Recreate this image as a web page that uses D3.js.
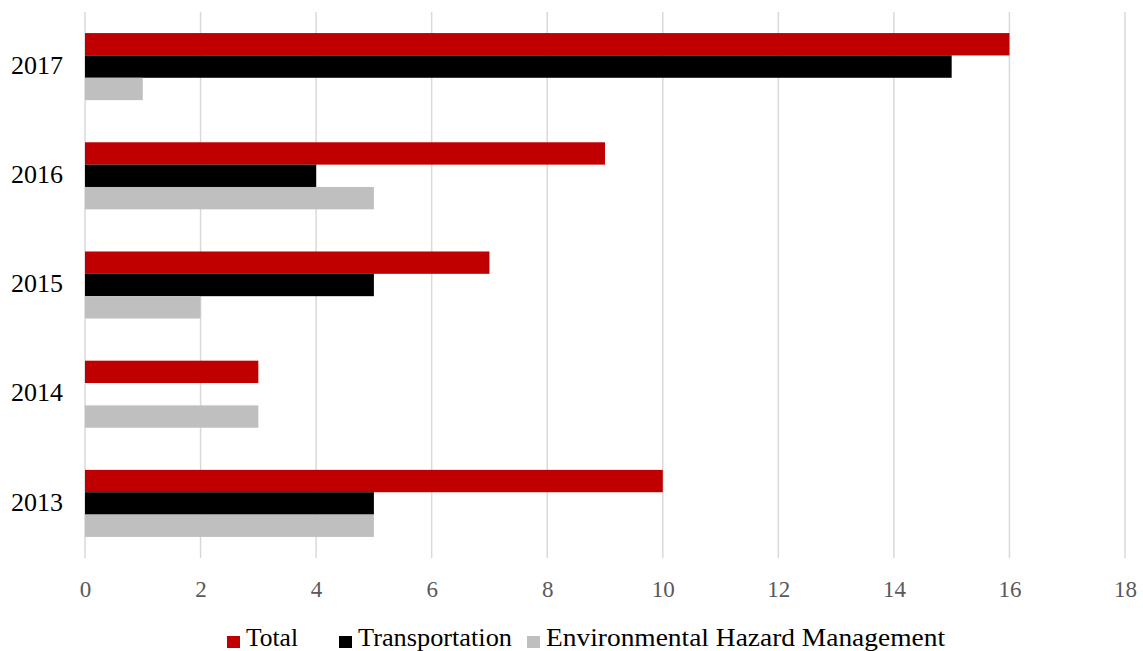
<!DOCTYPE html>
<html><head><meta charset="utf-8">
<script src="https://cdn.jsdelivr.net/npm/d3@7"></script>
<style>body{margin:0;background:#fff}svg{display:block}</style>
</head><body>
<svg id="chart" width="1143" height="651"></svg>
<script>
const categories = ["2017","2016","2015","2014","2013"];
const seriesNames = ["Total","Transportation","Environmental Hazard Management"];
const totalValues = [16, 9, 7, 3, 10];
const transportationValues = [15, 4, 5, 0, 5];
const envValues = [1, 5, 2, 3, 5];
const xTicks = [0,2,4,6,8,10,12,14,16,18];
const colors = ["#c00000","#000000","#bfbfbf"];

const series = [totalValues, transportationValues, envValues];
const svg = d3.select("#chart");
const font = "'Liberation Serif', serif";

const x = d3.scaleLinear().domain([0,18]).range([85,1125]);
const y = d3.scaleBand().domain(categories).range([12,558]).paddingInner(0.386).paddingOuter(0.193);
const y1 = d3.scaleBand().domain(seriesNames).range([0,y.bandwidth()]);

// gridlines
svg.append("g").selectAll("line").data(xTicks).join("line")
  .attr("x1",d=>x(d)).attr("x2",d=>x(d)).attr("y1",12).attr("y2",558)
  .attr("stroke","#d9d9d9").attr("stroke-width",1.5);

// bars
const g = svg.append("g");
categories.forEach((c,i)=>{
  seriesNames.forEach((s,j)=>{
    g.append("rect").attr("x",x(0)).attr("y",y(c)+y1(s))
     .attr("width",x(series[j][i])-x(0)).attr("height",y1.bandwidth())
     .attr("fill",colors[j]);
  });
});

// x axis
const xa = svg.append("g").attr("transform","translate(0,597)")
  .call(d3.axisBottom(x).tickValues(xTicks).tickSize(0).tickPadding(0));
xa.select(".domain").remove();
xa.selectAll("text").attr("font-family",font).attr("font-size",23).attr("fill","#595959").attr("dy","0");

// y axis
const ya = svg.append("g").attr("transform","translate(63,0)")
  .call(d3.axisLeft(y).tickSize(0).tickPadding(0));
ya.select(".domain").remove();
ya.selectAll("text").attr("font-family",font).attr("font-size",26).attr("fill","#000").attr("dy","0.28em");

// legend
const legendX = [227, 339, 527];
const legendW = [52, 154, 399];
const lg = svg.append("g");
seriesNames.forEach((s,j)=>{
  lg.append("rect").attr("x",legendX[j]).attr("y",636).attr("width",13).attr("height",12).attr("fill",colors[j]);
  lg.append("text").attr("x",legendX[j]+19).attr("y",646).text(s)
    .attr("font-family",font).attr("font-size",25).attr("fill","#000")
    .attr("textLength",legendW[j]).attr("lengthAdjust","spacingAndGlyphs");
});
</script>
</body></html>
